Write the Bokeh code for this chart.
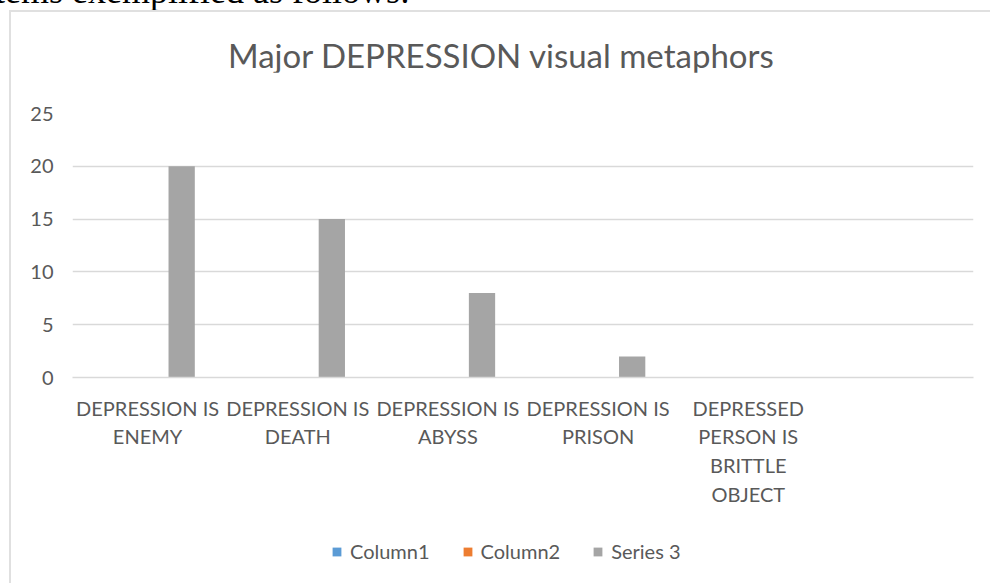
from bokeh.plotting import figure
from bokeh.models import (Range1d, Legend, LegendItem, Div,
                          SingleIntervalTicker, FixedTicker, ColumnDataSource)
from bokeh.layouts import column
from bokeh.embed import file_html
from bokeh.resources import INLINE
import numpy as np

# ---- data ----
categories = ["DEPRESSION IS ENEMY", "DEPRESSION IS DEATH", "DEPRESSION IS ABYSS",
              "DEPRESSION IS PRISON", "DEPRESSED PERSON IS BRITTLE OBJECT", ""]
tick_labels = ["DEPRESSION IS\nENEMY", "DEPRESSION IS\nDEATH", "DEPRESSION IS\nABYSS",
               "DEPRESSION IS\nPRISON", "DEPRESSED\nPERSON IS\nBRITTLE\nOBJECT", ""]
column1 = [np.nan, np.nan, np.nan, np.nan, np.nan, np.nan]
column2 = [np.nan, np.nan, np.nan, np.nan, np.nan, np.nan]
series3 = [20, 15, 8, 2, 0, np.nan]
series_keys = ["c1", "c2", "s3"]
series_names = ["Column1", "Column2", "Series 3"]
series_colors = ["#5b9bd5", "#ed7d31", "#a5a5a5"]
y_ticks_interval = 5
title_text = "Major DEPRESSION visual metaphors"
doc_text = "tems exemplified as follows:"

FONT = "Lato"
TXT = "#595959"
GRID = "#d9d9d9"
BOX = "#e0e0e0"

idx = np.arange(len(categories)) + 0.5
src = ColumnDataSource(dict(x=idx, c1=column1, c2=column2, s3=series3))

# ---------------- chart title ----------------
title = Div(text=('<div style="position:relative; top:27px; left:217px; '
                  'font-family: Lato, sans-serif; font-size: 33px; line-height: 33px; '
                  'white-space: nowrap; color: ' + TXT + ';">' + title_text + '</div>'),
            width=979, height=60, margin=0)

# ---------------- main chart ----------------
p = figure(width=979, height=441, x_range=Range1d(0, len(categories)),
           y_range=Range1d(0, 25), output_backend="svg", toolbar_location=None,
           min_border_left=61, min_border_right=17, min_border_top=41,
           min_border_bottom=136)

offsets = [-0.227, 0.0, 0.227]
bar_renderers = []
for key, off, col in zip(series_keys, offsets, series_colors):
    src.data["x_" + key] = idx + off
    bar_renderers.append(p.vbar(x="x_" + key, top=key, width=0.175, source=src,
                                fill_color=col, line_color=None))

p.outline_line_color = None
p.xgrid.grid_line_color = None
p.ygrid.grid_line_color = GRID
p.ygrid.grid_line_width = 1.5

p.yaxis.ticker = SingleIntervalTicker(interval=y_ticks_interval)
p.yaxis.axis_line_color = None
p.yaxis.major_tick_line_color = None
p.yaxis.minor_tick_line_color = None
p.yaxis.major_label_text_font = FONT
p.yaxis.major_label_text_font_size = "20px"
p.yaxis.major_label_text_color = TXT
p.yaxis.major_label_standoff = 13

p.xaxis.ticker = FixedTicker(ticks=list(idx))
p.xaxis.axis_line_color = GRID
p.xaxis.axis_line_width = 1.5
p.xaxis.major_tick_line_color = None
p.xaxis.minor_tick_line_color = None
p.xaxis.major_label_overrides = {float(v): t for v, t in zip(idx, tick_labels)}
p.xaxis.major_label_text_font = FONT
p.xaxis.major_label_text_font_size = "20px"
p.xaxis.major_label_text_color = TXT
p.xaxis.major_label_text_line_height = 1.2
p.xaxis.major_label_standoff = 12

# ---------------- legend strip ----------------
lg = figure(width=979, height=70, x_range=Range1d(0, 1), y_range=Range1d(0, 1),
            output_backend="svg", toolbar_location=None, min_border=0)
lg.axis.visible = False
lg.grid.visible = False
lg.outline_line_color = None
leg_renderers = []
for col in series_colors:
    # legend keys only: the empty Column1 values give no visible mark here
    leg_renderers.append(lg.vbar(x="x_c1", top="c1", width=0.175, source=src,
                                 fill_color=col, line_color=None))
legend = Legend(items=[LegendItem(label=n, renderers=[r]) for n, r in zip(series_names, leg_renderers)],
                orientation="horizontal", location=(259, 20))
legend.label_text_font = FONT
legend.label_text_font_size = "20px"
legend.label_text_color = TXT
legend.glyph_width = 11
legend.glyph_height = 11
legend.label_standoff = 8
legend.spacing = 32
legend.margin = 0
legend.border_line_color = None
legend.background_fill_alpha = 0
lg.add_layout(legend, "center")

# ---------------- surrounding document ----------------
doc = Div(text=('<div style="position:relative; top:-27px; left:-5px; '
                'font-family: \'Liberation Serif\', serif; font-size: 36px; line-height: 36px; '
                'white-space: nowrap; color: #000;">' + doc_text + '</div>'),
          width=990, height=10, margin=0, styles={"overflow": "hidden"})

chart = column(title, p, lg, spacing=0, margin=(0, 0, 0, 9),
               styles={"border-left": "2px solid " + BOX, "border-top": "2px solid " + BOX})
layout = column(doc, chart, spacing=0, margin=0)
open("out.html", "w").write(file_html(layout, INLINE))
